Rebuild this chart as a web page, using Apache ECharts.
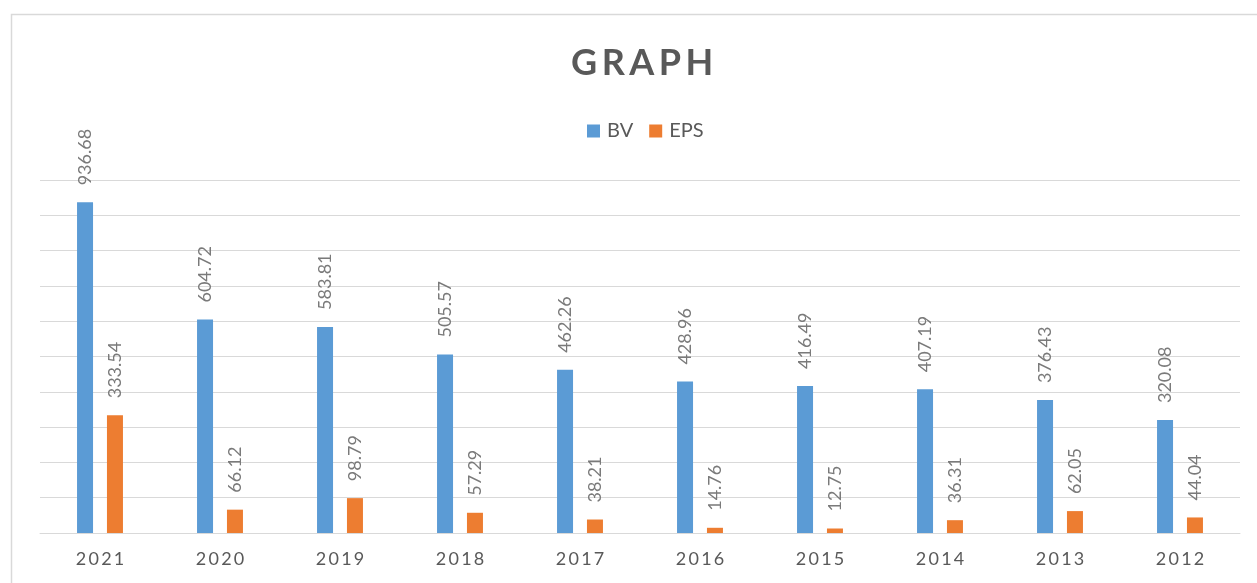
<!DOCTYPE html>
<html>
<head>
<meta charset="utf-8">
<script src="https://cdn.jsdelivr.net/npm/echarts@6/dist/echarts.min.js"></script>
<style>
html,body{margin:0;padding:0;background:#fff;}
#c{width:1257px;height:583px;}
</style>
</head>
<body>
<div id="c"></div>
<script>
const categories = ['2021','2020','2019','2018','2017','2016','2015','2014','2013','2012'];
const bvValues = [936.68, 604.72, 583.81, 505.57, 462.26, 428.96, 416.49, 407.19, 376.43, 320.08];
const epsValues = [333.54, 66.12, 98.79, 57.29, 38.21, 14.76, 12.75, 36.31, 62.05, 44.04];
const seriesNames = ['BV', 'EPS'];
const titleText = 'GRAPH';

const FONT = 'Lato, "Open Sans", sans-serif';
const spaced = (s, sp) => s.split('').join(sp);

const labelCfg = {
  show: true,
  position: 'top',
  rotate: 90,
  align: 'left',
  verticalAlign: 'middle',
  distance: 17,
  color: '#7a7a7a',
  fontFamily: FONT,
  fontSize: 18,
  formatter: p => Number(p.value).toFixed(2)
};

const chart = echarts.init(document.getElementById('c'), null, {renderer: 'canvas'});
chart.setOption({
  animation: false,
  backgroundColor: '#ffffff',
  title: {
    text: spaced(titleText, '\u200A\u200A'),
    left: 566,
    top: 40,
    textStyle: {fontFamily: FONT, fontSize: 36, fontWeight: 'bold', color: '#595959'}
  },
  legend: {
    data: seriesNames,
    top: 116,
    left: 582,
    itemWidth: 13,
    itemHeight: 13,
    itemGap: 16,
    icon: 'rect',
    textStyle: {fontFamily: FONT, fontSize: 20, color: '#595959', padding: [0, 0, 0, 2]}
  },
  graphic: [{
    type: 'rect',
    shape: {x: 11.5, y: 14.5, width: 1300, height: 600},
    style: {fill: 'none', stroke: '#d9d9d9', lineWidth: 1.5},
    silent: true
  }],
  grid: {left: 40, right: 17, top: 180, bottom: 50},
  xAxis: {
    type: 'category',
    data: categories,
    axisLine: {lineStyle: {color: '#d9d9d9', width: 1}},
    axisTick: {show: false},
    axisLabel: {
      fontFamily: FONT, fontSize: 18, color: '#595959', margin: 17,
      formatter: v => spaced(v, '\u2009')
    }
  },
  yAxis: {
    type: 'value',
    min: 0, max: 1000, interval: 100,
    axisLabel: {show: false},
    axisLine: {show: false},
    axisTick: {show: false},
    splitLine: {lineStyle: {color: '#d9d9d9', width: 1}}
  },
  series: [
    {name: seriesNames[0], type: 'bar', data: bvValues, barWidth: 16, barGap: '87%',
     itemStyle: {color: '#5B9BD5'}, label: labelCfg},
    {name: seriesNames[1], type: 'bar', data: epsValues, barWidth: 16, barGap: '87%',
     itemStyle: {color: '#ED7D31'}, label: labelCfg}
  ]
});
</script>
</body>
</html>
